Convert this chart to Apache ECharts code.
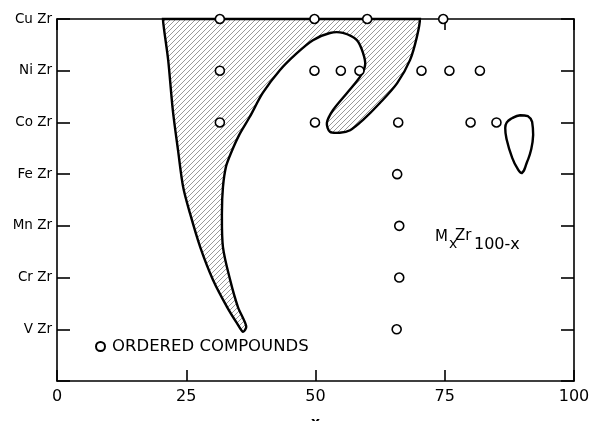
<!DOCTYPE html>
<html>
<head>
<meta charset="utf-8">
<script src="https://cdn.jsdelivr.net/npm/echarts@6/dist/echarts.min.js"></script>
<style>html,body{margin:0;padding:0;background:#fff}#chart{width:594px;height:421px}</style>
</head>
<body>
<div id="chart"></div>
<script>
// y categories, bottom (1) to top (7)
const categories = ['V Zr', 'Cr Zr', 'Mn Zr', 'Fe Zr', 'Co Zr', 'Ni Zr', 'Cu Zr'];
const xTickValues = [0, 25, 50, 75, 100];

// glass-forming (hatched) region boundary: x (at.% M), y (row position)
const glassX = [20.5, 21.5, 22.4, 23.4, 24.4, 25.7, 27.7, 30.2, 32.9, 34.8, 36.0,
  36.6, 35.0, 33.5, 32.1, 31.9, 32.1, 32.7, 33.7, 35.2, 37.3, 39.8, 43.1, 46.4, 49.5,
  52.8, 55.3, 58.0, 59.2, 59.6, 58.6, 56.1, 53.4, 52.2, 52.8, 54.7, 56.7, 59.2, 62.5,
  65.8, 68.3, 69.6, 70.2, 60.0, 50.0, 40.0, 30.0];
const glassY = [7.0, 6.21, 5.24, 4.47, 3.75, 3.25, 2.59, 1.95, 1.43, 1.12, 0.95,
  1.06, 1.43, 1.95, 2.59, 3.25, 3.75, 4.15, 4.42, 4.75, 5.11, 5.57, 6.01, 6.34, 6.59,
  6.73, 6.73, 6.59, 6.34, 6.11, 5.88, 5.57, 5.24, 4.99, 4.82, 4.80, 4.85, 5.05, 5.38,
  5.76, 6.21, 6.65, 7.0, 7.0, 7.0, 7.0, 7.0];

// closed loop near CoZr
const loopX = [89.6, 91.1, 91.9, 92.1, 91.7, 90.9, 89.9, 89.0, 88.0, 87.0, 86.7, 87.0, 88.0];
const loopY = [5.14, 5.12, 5.01, 4.76, 4.47, 4.23, 4.02, 4.12, 4.33, 4.66, 4.89, 5.0, 5.08];

// ordered compounds: x composition and row index (1..7)
const compoundX = [31.5, 49.8, 60.0, 74.7,
  31.5, 49.8, 54.9, 58.5, 70.5, 75.9, 81.8,
  31.5, 49.9, 66.0, 80.0, 85.0,
  65.8, 66.2, 66.2, 65.7];
const compoundRow = [7, 7, 7, 7,
  6, 6, 6, 6, 6, 6, 6,
  5, 5, 5, 5, 5,
  4, 3, 2, 1];

function makeHatch() {
  const s = 5;
  const c = document.createElement('canvas');
  c.width = s; c.height = s;
  const g = c.getContext('2d');
  g.fillStyle = '#ffffff';
  g.fillRect(0, 0, s, s);
  g.strokeStyle = 'rgba(40,40,40,0.6)';
  g.lineWidth = 0.8;
  g.beginPath();
  g.moveTo(-1, s + 1); g.lineTo(s + 1, -1);
  g.moveTo(-1, 1); g.lineTo(1, -1);
  g.moveTo(s - 1, s + 1); g.lineTo(s + 1, s - 1);
  g.stroke();
  return c;
}
const hatch = makeHatch();

const font = 'DejaVu Sans';
const chart = echarts.init(document.getElementById('chart'), null, {renderer: 'canvas'});

function polyItem(xs, ys, fill, smooth) {
  return function (params, api) {
    const pts = xs.map((x, i) => api.coord([x, ys[i]]));
    let x0 = Infinity, y0 = Infinity, x1 = -Infinity, y1 = -Infinity;
    pts.forEach(p => { x0 = Math.min(x0, p[0]); y0 = Math.min(y0, p[1]); x1 = Math.max(x1, p[0]); y1 = Math.max(y1, p[1]); });
    return {
      type: 'polygon',
      shape: {points: pts, smooth: smooth, smoothConstraint: [[x0, y0], [x1, y1]]},
      style: {fill: fill, stroke: '#000', lineWidth: 2.4}
    };
  };
}

const axisLineStyle = {color: '#000', width: 1.6};
const tickStyle = {color: '#000', width: 1.6};

chart.setOption({
  animation: false,
  backgroundColor: '#fff',
  grid: {left: 57, right: 20, top: 19, bottom: 40, containLabel: false, outerBoundsMode: 'none'},
  legend: {
    left: 95, top: 338, padding: 0,
    itemWidth: 9, itemHeight: 9, itemGap: 4,
    data: [{name: 'ORDERED COMPOUNDS', icon: 'circle'}],
    textStyle: {fontFamily: font, fontSize: 16.5, color: '#000', padding: [0, 0, 0, 2]}
  },
  xAxis: [{
    type: 'value', min: 0, max: 100, interval: 25, position: 'bottom',
    name: 'x', nameLocation: 'middle', nameGap: 35,
    nameTextStyle: {fontFamily: font, fontSize: 14, color: '#000', fontWeight: 'bold'},
    axisLine: {show: true, onZero: false, lineStyle: axisLineStyle},
    axisTick: {show: true, inside: true, length: 11, lineStyle: tickStyle},
    axisLabel: {fontFamily: font, fontSize: 16, color: '#000', margin: 8,
      formatter: v => xTickValues.includes(v) ? String(v) : ''},
    splitLine: {show: false}
  }, {
    type: 'value', min: 0, max: 100, interval: 25, position: 'top',
    axisLine: {show: true, onZero: false, lineStyle: axisLineStyle},
    axisTick: {show: true, inside: true, length: 11, lineStyle: tickStyle},
    axisLabel: {show: false}, splitLine: {show: false}
  }],
  yAxis: [{
    type: 'value', min: 0, max: 7, interval: 1, position: 'left',
    axisLine: {show: true, onZero: false, lineStyle: axisLineStyle},
    axisTick: {show: true, inside: true, length: 13, lineStyle: tickStyle},
    axisLabel: {fontFamily: font, fontSize: 13.5, color: '#000', margin: 5,
      formatter: v => categories[v - 1] || ''},
    splitLine: {show: false}
  }, {
    type: 'value', min: 0, max: 7, interval: 1, position: 'right',
    axisLine: {show: true, onZero: false, lineStyle: axisLineStyle},
    axisTick: {show: true, inside: true, length: 13, lineStyle: tickStyle},
    axisLabel: {show: false}, splitLine: {show: false}
  }],
  series: [{
    type: 'custom', name: 'glass region', silent: true, z: 2,
    data: [[glassX[0], glassY[0]]],
    renderItem: polyItem(glassX, glassY, {image: hatch, repeat: 'repeat'}, 0.3)
  }, {
    type: 'custom', name: 'loop', silent: true, z: 2,
    data: [[loopX[0], loopY[0]]],
    renderItem: polyItem(loopX, loopY, 'none', 0.5)
  }, {
    type: 'scatter', name: 'ORDERED COMPOUNDS', z: 5,
    symbol: 'circle', symbolSize: 9,
    itemStyle: {color: '#fff', borderColor: '#000', borderWidth: 1.6, opacity: 1},
    data: compoundX.map((x, i) => [x, compoundRow[i]])
  }],
  graphic: [
    {type: 'text', left: 435, top: 230, style: {text: 'M', font: '15px "DejaVu Sans"', fill: '#000'}},
    {type: 'text', left: 449, top: 237, style: {text: 'x', font: '14px "DejaVu Sans"', fill: '#000'}},
    {type: 'text', left: 455, top: 229, style: {text: 'Zr', font: '15px "DejaVu Sans"', fill: '#000'}},
    {type: 'text', left: 474, top: 237, style: {text: '100-x', font: '16px "DejaVu Sans"', fill: '#000'}}
  ]
});
</script>
</body>
</html>
